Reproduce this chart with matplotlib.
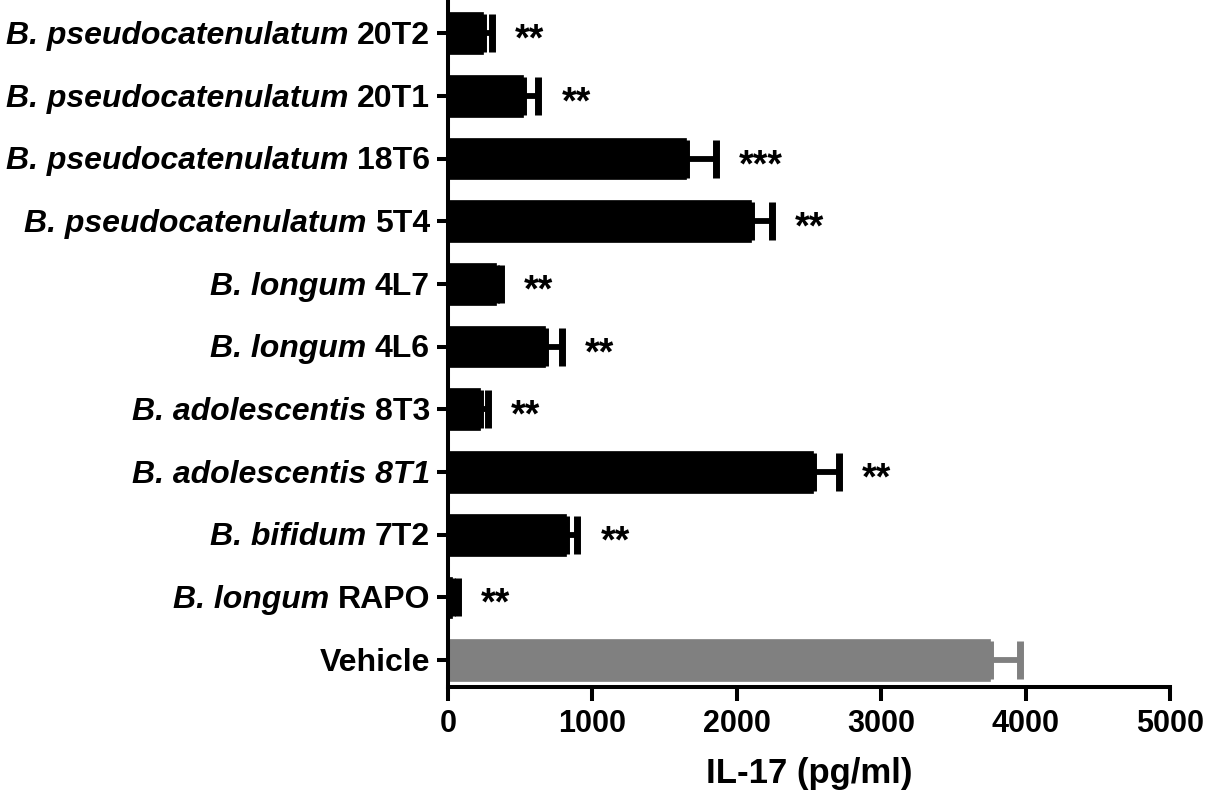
import matplotlib
matplotlib.use("Agg")
import matplotlib.pyplot as plt
from matplotlib.offsetbox import TextArea, HPacker, AnnotationBbox
import numpy as np

plt.rcParams['font.family'] = ['Liberation Sans', 'DejaVu Sans']
plt.rcParams['font.weight'] = 'bold'

# grupos, de arriba hacia abajo: (parte en cursiva, parte normal)
species = [
    "B. pseudocatenulatum", "B. pseudocatenulatum", "B. pseudocatenulatum",
    "B. pseudocatenulatum", "B. longum", "B. longum", "B. adolescentis",
    "B. adolescentis 8T1", "B. bifidum", "B. longum", "",
]
strains = ["20T2", "20T1", "18T6", "5T4", "4L7", "4L6", "8T3", "", "7T2", "RAPO",
           "Vehicle"]
il17_mean = [240, 520, 1650, 2100, 330, 670, 220, 2530, 820, 30, 3750]
il17_sem = [65, 105, 205, 145, 35, 120, 58, 175, 75, 40, 210]
signif = ["**", "**", "***", "**", "**", "**", "**", "**", "**", "**", ""]

n = len(strains)
ypos = np.arange(n)[::-1]
colors = ["black"] * (n - 1) + ["#808080"]
lab_size = 23

fig = plt.figure(figsize=(12.05, 7.95), dpi=100)
ax = fig.add_axes([0.3718, 0.1358, 0.5992, 0.8642])

for y, m, e, c in zip(ypos, il17_mean, il17_sem, colors):
    ax.barh(y, m, height=0.665, color=c, edgecolor=c, linewidth=0.5)
    ax.errorbar(m, y, xerr=[[0], [e]], fmt='none', ecolor=c,
                elinewidth=4.2, capsize=14, capthick=5)

for y, m, e, s in zip(ypos, il17_mean, il17_sem, signif):
    if s:
        ax.text(m + e + 160, y - 0.12, s, fontsize=27, fontweight='bold',
                ha='left', va='center')

# etiquetas del eje y: especie en cursiva + cepa normal
for y, sp, st in zip(ypos, species, strains):
    parts = []
    if sp:
        parts.append(TextArea(sp, textprops=dict(fontsize=lab_size, fontweight='bold',
                                                 fontstyle='italic')))
    if st:
        parts.append(TextArea(st, textprops=dict(fontsize=lab_size, fontweight='bold')))
    box = HPacker(children=parts, align='baseline', pad=0, sep=6)
    ab = AnnotationBbox(box, (0, y), xycoords=('axes fraction', 'data'),
                        xybox=(-13, -2), boxcoords='offset points',
                        box_alignment=(1, 0.5), frameon=False,
                        annotation_clip=False, pad=0)
    ax.add_artist(ab)

ax.set_xlim(0, 5000)
ax.set_ylim(-0.43, 10.53)
ax.set_xticks([0, 1000, 2000, 3000, 4000, 5000])
ax.set_yticks(ypos)
ax.set_yticklabels([])
ax.set_xlabel("IL-17 (pg/ml)", fontsize=25, fontweight='bold', labelpad=13)

for s in ['top', 'right']:
    ax.spines[s].set_visible(False)
for s in ['left', 'bottom']:
    ax.spines[s].set_linewidth(2.9)
ax.tick_params(axis='y', length=8, width=2.9)
ax.tick_params(axis='x', length=10, width=2.9, labelsize=22, pad=6)
for t in ax.get_xticklabels():
    t.set_fontweight('bold')

fig.savefig("out.png", dpi=100)
